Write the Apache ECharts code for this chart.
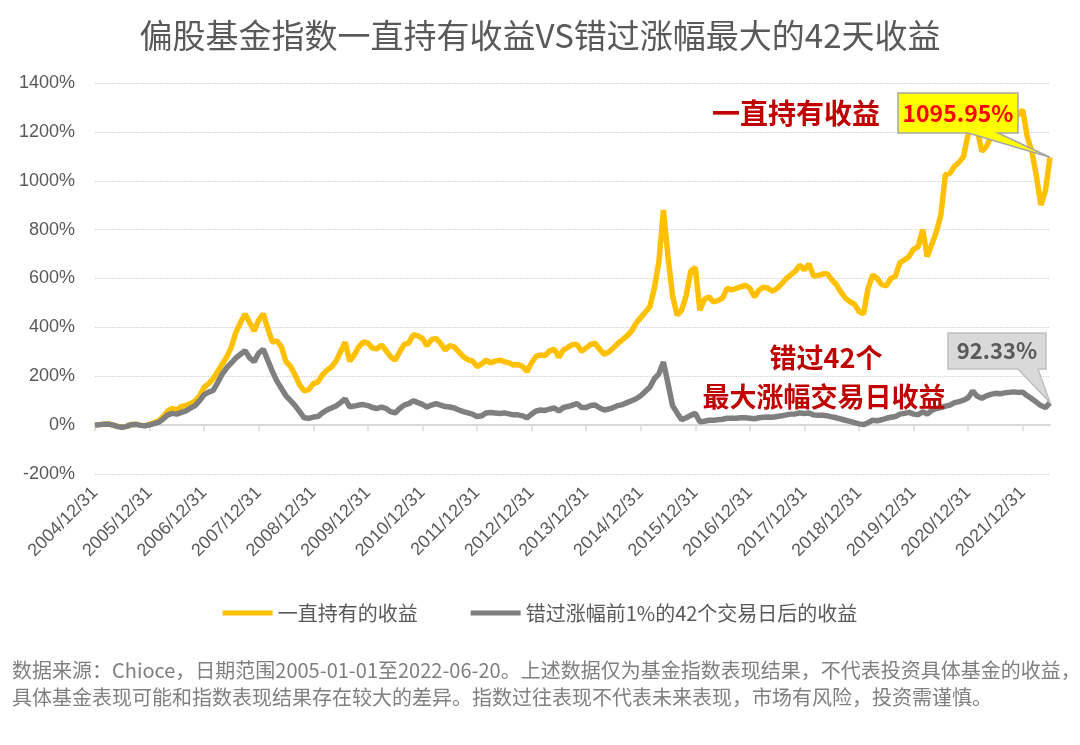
<!DOCTYPE html>
<html>
<head>
<meta charset="utf-8">
<script src="https://cdn.jsdelivr.net/npm/echarts@6/dist/echarts.min.js"></script>
<style>
html, body { margin: 0; padding: 0; background: #fff; }
#chart { width: 1080px; height: 745px; }
</style>
</head>
<body>
<div id="chart"></div>
<script>
// 偏股基金指数：一直持有 vs 错过涨幅最大的42天（月度读数，单位 %）
const cjk = '"Noto Sans CJK SC", sans-serif';

// 月末日期作为类目，最后一个是 2022/06/20
let categories = [];
for (let y = 2004; y <= 2022; y++) {
    for (let m = 1; m <= 12; m++) {
        if (y == 2004 && m < 12) continue;
        if (y == 2022 && m > 5) break;
        let d = new Date(y, m, 0).getDate();
        categories.push(y + '/' + (m < 10 ? '0' + m : m) + '/' + d);
    }
}
categories.push('2022/06/20');

// 一直持有的收益
const holdReturn = [
    0, 2, 4, 5, 0, -5, -8, -4, 3, 4, 0, -2,
    3, 10, 18, 35, 58, 68, 62, 76, 80, 88, 98, 120,
    155, 170, 190, 220, 250, 280, 320, 380, 420, 455, 420, 385,
    430, 455, 395, 340, 345, 320, 260, 240, 205, 165, 140, 145,
    170, 176, 205, 225, 238, 262, 300, 340, 262, 287, 320, 340,
    336, 315, 312, 328, 305, 280, 266, 300, 330, 336, 370, 365,
    355, 325, 350, 355, 335, 307, 325, 320, 300, 280, 268, 262,
    240, 250, 266, 255, 262, 266, 260, 255, 246, 248, 240, 220,
    255, 282, 287, 285, 305, 310, 278, 308, 318, 330, 330, 302,
    316, 330, 335, 310, 290, 300, 316, 335, 350, 365, 385, 418,
    440, 462, 484, 560, 670, 880, 690, 530, 450, 470, 530, 630,
    645, 470, 515, 525, 504, 510, 520, 560, 553, 560, 566, 572,
    560, 525, 552, 565, 560, 548, 560, 578, 600, 615, 630, 655,
    635, 660, 610, 612, 618, 620, 595, 575, 545, 520, 505, 495,
    465, 455, 560, 615, 600, 575, 570, 600, 610, 665, 676, 690,
    720, 730, 800, 690, 740, 790, 860, 1025, 1030, 1060, 1075, 1100,
    1190, 1300, 1210, 1120, 1140, 1180, 1200, 1230, 1220, 1240, 1260, 1270,
    1290, 1180, 1120, 1020, 900, 960, 1095.95
];

// 错过涨幅前1%的42个交易日后的收益
const missedReturn = [
    0, 2, 4, 4, 0, -6, -9, -5, 2, 3, -1, -3,
    1, 6, 12, 25, 42, 48, 45, 52, 58, 70, 80, 100,
    125, 135, 142, 175, 210, 235, 255, 275, 290, 305, 275, 260,
    295, 310, 265, 220, 180, 150, 120, 100, 80, 55, 30, 28,
    33, 35, 50, 62, 70, 78, 92, 108, 75, 78, 82, 84,
    80, 72, 68, 74, 68, 55, 50, 68, 82, 88, 100, 92,
    85, 74, 82, 88, 82, 76, 74, 70, 62, 55, 50, 45,
    35, 38, 50, 52, 50, 48, 50, 46, 42, 42, 38, 30,
    45, 58, 62, 60, 66, 70, 58, 72, 76, 82, 88, 72,
    72, 80, 82, 70, 62, 66, 72, 80, 84, 92, 100, 108,
    120, 138, 155, 190, 210, 258, 170, 80, 50, 22, 30, 40,
    48, 14, 16, 20, 20, 22, 24, 28, 28, 28, 30, 30,
    28, 26, 30, 32, 33, 32, 35, 38, 42, 45, 46, 50,
    48, 50, 42, 40, 40, 38, 34, 30, 25, 20, 15, 10,
    5, 2, 10, 20, 18, 22, 28, 32, 35, 45, 48, 52,
    45, 42, 55, 45, 60, 68, 72, 78, 82, 92, 96, 102,
    112, 140, 118, 110, 120, 126, 130, 128, 132, 134, 136, 134,
    135, 120, 108, 94, 80, 72, 92.33
];

const seriesNames = ['一直持有的收益', '错过涨幅前1%的42个交易日后的收益'];
const footerLines = [
    '数据来源：Chioce，日期范围2005-01-01至2022-06-20。上述数据仅为基金指数表现结果，不代表投资具体基金的收益，',
    '具体基金表现可能和指数表现结果存在较大的差异。指数过往表现不代表未来表现，市场有风险，投资需谨慎。'
];

const yellow = '#ffc000';
const grey = '#7f7f7f';
const red = '#c00000';

// 只在每年的 12/31 显示刻度和标签
function isYearEnd(index) {
    return index % 12 === 0 && index < categories.length - 1;
}

var myChart = echarts.init(document.getElementById('chart'));
var option = {
    animation: false,
    backgroundColor: '#fff',
    title: {
        text: '偏股基金指数一直持有收益VS错过涨幅最大的42天收益',
        left: 'center',
        top: 14,
        textStyle: { fontFamily: cjk, fontSize: 33, fontWeight: 'normal', color: '#595959' }
    },
    grid: { left: 95, right: 30, top: 83, bottom: 271 },
    legend: {
        data: seriesNames,
        top: 598,
        left: 'center',
        icon: 'rect',
        itemWidth: 50,
        itemHeight: 5,
        itemGap: 53,
        textStyle: { fontFamily: cjk, fontSize: 20, color: '#595959' }
    },
    xAxis: [
        {
            // 底部标签轴
            type: 'category',
            data: categories,
            boundaryGap: false,
            position: 'bottom',
            axisLine: { show: false, onZero: false },
            axisTick: { show: false },
            axisLabel: {
                interval: isYearEnd,
                rotate: 45,
                margin: 16,
                fontSize: 18,
                color: '#595959',
                fontFamily: 'Liberation Sans'
            },
            splitLine: { show: false }
        },
        {
            // 0% 处的轴线和刻度
            type: 'category',
            data: categories,
            boundaryGap: false,
            position: 'bottom',
            axisLine: { show: true, onZero: true, lineStyle: { color: '#d9d9d9', width: 2 } },
            axisTick: { show: true, interval: isYearEnd, length: 6, lineStyle: { color: '#d9d9d9', width: 1.5 } },
            axisLabel: { show: false },
            splitLine: { show: false }
        }
    ],
    yAxis: {
        type: 'value',
        min: -200,
        max: 1400,
        interval: 200,
        axisLine: { show: false },
        axisTick: { show: false },
        axisLabel: {
            formatter: function (value) {
                return value + '%';
            },
            fontSize: 18,
            color: '#595959',
            margin: 20,
            fontFamily: 'Liberation Sans'
        },
        splitLine: { lineStyle: { type: 'dotted', color: '#cfcfcf', width: 1.2 } }
    },
    series: [
        {
            name: seriesNames[0],
            type: 'line',
            data: holdReturn,
            showSymbol: false,
            color: yellow,
            lineStyle: { color: yellow, width: 5.5 },
            z: 3
        },
        {
            name: seriesNames[1],
            type: 'line',
            data: missedReturn,
            showSymbol: false,
            color: grey,
            lineStyle: { color: grey, width: 5.5 },
            z: 4
        }
    ]
};
myChart.setOption(option);

// 标注：指向最后一个数据点的气泡框
let last = categories.length - 1;
let tipHold = myChart.convertToPixel({ xAxisIndex: 0, yAxisIndex: 0 }, [last, holdReturn[last]]);
let tipMiss = myChart.convertToPixel({ xAxisIndex: 0, yAxisIndex: 0 }, [last, missedReturn[last]]);

function callout(x1, y1, x2, y2, b1, b2, tip, fill, stroke) {
    return {
        type: 'polygon',
        z: 100,
        shape: { points: [[x1, y1], [x2, y1], [x2, y2], [b2, y2], tip, [b1, y2], [x1, y2]] },
        style: { fill: fill, stroke: stroke, lineWidth: 1.5 }
    };
}

myChart.setOption({
    graphic: [
        callout(898, 93, 1018, 133, 968, 998, tipHold, '#ffff00', '#a6a6a6'),
        {
            type: 'text', z: 101, x: 958, y: 113,
            style: { text: holdReturn[last].toFixed(2) + '%', fill: '#ff0000', font: 'bold 23px ' + cjk, align: 'center', verticalAlign: 'middle' }
        },
        callout(948, 333, 1046, 369, 1018, 1038, tipMiss, '#d9d9d9', '#bfbfbf'),
        {
            type: 'text', z: 101, x: 997, y: 351,
            style: { text: missedReturn[last].toFixed(2) + '%', fill: '#595959', font: 'bold 22px ' + cjk, align: 'center', verticalAlign: 'middle' }
        },
        {
            type: 'text', z: 101, x: 796, y: 113,
            style: { text: '一直持有收益', fill: red, font: 'bold 28px ' + cjk, align: 'center', verticalAlign: 'middle' }
        },
        {
            type: 'text', z: 101, x: 826, y: 358,
            style: { text: '错过42个', fill: red, font: 'bold 27px ' + cjk, align: 'center', verticalAlign: 'middle' }
        },
        {
            type: 'text', z: 101, x: 824, y: 397,
            style: { text: '最大涨幅交易日收益', fill: red, font: 'bold 27px ' + cjk, align: 'center', verticalAlign: 'middle' }
        },
        {
            type: 'text', z: 101, x: 12, y: 670,
            style: { text: footerLines[0], fill: '#7f7f7f', font: '20px ' + cjk, verticalAlign: 'middle' }
        },
        {
            type: 'text', z: 101, x: 12, y: 697,
            style: { text: footerLines[1], fill: '#7f7f7f', font: '20px ' + cjk, verticalAlign: 'middle' }
        }
    ]
});
</script>
</body>
</html>
